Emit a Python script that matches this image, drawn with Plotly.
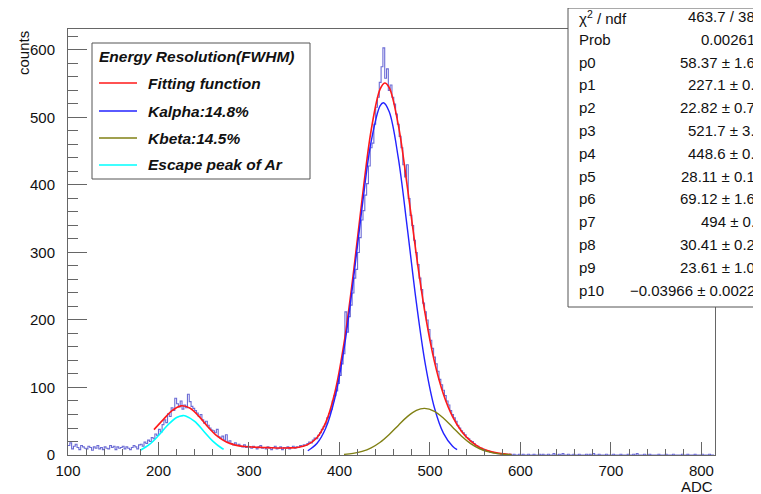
import numpy as np
import plotly.graph_objects as go

# ---------------- data ----------------
bin_start = 100
bin_width = 2
counts = [
    14, 18, 9, 13, 16, 11, 8, 14, 12, 10,
    9, 13, 11, 7, 12, 10, 14, 9, 11, 8,
    12, 10, 9, 14, 11, 13, 8, 12, 10, 11,
    13, 9, 12, 10, 8, 11, 14, 12, 9, 15,
    16, 13, 19, 17, 22, 20, 26, 24, 31, 29,
    38, 34, 45, 52, 48, 61, 57, 70, 66, 84,
    76, 71, 80, 68, 74, 70, 90, 79, 72, 69,
    66, 62, 57, 60, 52, 47, 50, 44, 40, 37,
    36, 33, 38, 27, 25, 28, 22, 30, 19, 21,
    17, 15, 18, 14, 16, 13, 12, 15, 11, 13,
    12, 10, 13, 11, 9, 12, 14, 10, 11, 9,
    12, 10, 8, 11, 13, 9, 10, 12, 8, 11,
    10, 12, 9, 11, 13, 10, 12, 11, 14, 13,
    15, 14, 17, 19, 18, 22, 25, 24, 29, 33,
    38, 42, 46, 55, 61, 68, 80, 88, 95, 106,
    118, 135, 150, 212, 182, 205, 222, 240, 262, 275,
    300, 322, 348, 362, 385, 402, 428, 455, 462, 490,
    515, 530, 552, 575, 603, 558, 572, 540, 548, 530,
    520, 505, 490, 472, 455, 430, 412, 430, 380, 355,
    340, 318, 300, 282, 262, 245, 225, 212, 200, 186,
    170, 158, 145, 135, 124, 112, 104, 96, 88, 80,
    74, 66, 60, 55, 50, 44, 40, 36, 33, 30,
    26, 24, 21, 20, 17, 14, 13, 11, 10, 8,
    7, 6, 6, 4, 4, 3, 3, 2, 2, 1,
    2, 1, 1, 0, 1, 0, 1, 0, 0, 1,
    0, 1, 0, 0, 1, 0, 0, 1, 0, 0,
    1, 0, 1, 0, 0, 1, 0, 0, 2, 0,
    0, 1, 0, 2, 0, 0, 1, 0, 0, 1,
    0, 0, 1, 0, 0, 0, 1, 0, 1, 0,
    2, 0, 0, 1, 0, 0, 0, 1, 0, 0,
    0, 1, 0, 0, 0, 1, 0, 0, 0, 1,
    0, 0, 1, 0, 2, 0, 0, 0, 1, 0,
    0, 1, 0, 0, 0, 0, 1, 0, 0, 0,
    1, 0, 0, 0, 1, 0, 0, 0, 0, 1,
    0, 0, 1, 0, 0, 0, 1, 0, 0, 0,
    1, 0, 0, 0, 1, 0, 0,
]

total_x = [195, 205, 215, 225, 235, 245, 255, 265, 275, 285, 295, 305, 315, 325,
           335, 345, 355, 365, 375, 385, 395, 405, 415, 425, 435, 445, 450, 455,
           465, 475, 485, 495, 505, 515, 525, 535, 545, 555, 565, 575, 585, 590]
total_y = [37.58, 52.0, 65.79, 72.81, 69.26, 56.80, 41.14, 27.80, 19.15, 14.65,
           12.61, 11.68, 11.15, 10.75, 10.47, 10.52, 11.57, 15.40, 25.69, 48.78,
           92.99, 165.2, 264.9, 378.8, 481.0, 542.2, 551.1, 544.2, 489.0, 397.3,
           296.1, 206.7, 138.0, 89.7, 56.9, 34.9, 20.4, 11.24, 5.82, 2.80, 1.20, 0.68]

kalpha_x = [365, 375, 385, 395, 405, 415, 425, 435, 445, 448.6, 455, 465, 475,
            485, 495, 505, 515, 525, 530]
kalpha_y = [6.26, 16.92, 40.33, 84.7, 156.7, 255.4, 366.8, 464.1, 517.4, 521.7,
            508.3, 440.0, 335.7, 225.6, 133.6, 69.7, 32.04, 12.98, 7.88]

kbeta_x = [405, 415, 425, 435, 445, 455, 465, 475, 485, 494, 505, 515, 525, 535,
           545, 555, 565, 575, 585, 590]
kbeta_y = [0.95, 2.37, 5.27, 10.53, 18.87, 30.37, 43.86, 56.86, 66.16, 69.12,
           64.74, 54.46, 41.11, 27.86, 16.94, 9.24, 4.53, 1.99, 0.79, 0.47]

escape_x = [180, 190, 200, 210, 220, 227.1, 230, 240, 250, 260, 270, 272]
escape_y = [6.93, 15.57, 28.84, 44.08, 55.61, 58.37, 57.90, 49.75, 35.28, 20.65, 9.97, 8.42]

legend_title = "Energy Resolution(FWHM)"
legend_labels = ["Fitting function", "Kalpha:14.8%", "Kbeta:14.5%", "Escape peak of Ar"]

stat_names = ["χ<sup>2</sup> / ndf", "Prob", "p0", "p1", "p2", "p3", "p4", "p5",
              "p6", "p7", "p8", "p9", "p10"]
stat_values = ["463.7 / 38", "0.00261", "58.37 ± 1.6", "227.1 ± 0.", "22.82 ± 0.7",
               "521.7 ± 3.", "448.6 ± 0.", "28.11 ± 0.1", "69.12 ± 1.6", "494 ± 0.",
               "30.41 ± 0.2", "23.61 ± 1.0", "−0.03966 ± 0.0022"]

# ---------------- styling ----------------
OFF = 8                      # page body margin of the html file
W, H = 761 - OFF, 494 - OFF
ML, MT = 68 - OFF, 29 - OFF
MR = W - (715 - OFF)
MB = H - (455 - OFF)
PW, PH = W - ML - MR, H - MT - MB
FONT = "Liberation Sans, Arial, Helvetica, sans-serif"
FRAME = "#666666"

c_hist = "rgba(45,45,195,0.7)"
c_red = "rgb(255,25,25)"
c_blue = "rgb(35,35,255)"
c_olive = "rgb(128,128,20)"
c_cyan = "rgb(0,255,255)"


def px2x(px):
    return (px - OFF - ML) / PW


def px2y(py):
    return (H - MB - (py - OFF)) / PH


edges = bin_start + bin_width * np.arange(len(counts) + 1)
hist_y = counts + [counts[-1]]

fig = go.Figure()
fig.add_trace(go.Scatter(x=edges, y=hist_y, mode="lines", line_shape="hv",
                         line=dict(color=c_hist, width=1.1), showlegend=False,
                         hoverinfo="skip"))
fig.add_trace(go.Scatter(x=total_x, y=total_y, mode="lines", line_shape="spline",
                         line=dict(color=c_red, width=1.6), showlegend=False))
fig.add_trace(go.Scatter(x=kalpha_x, y=kalpha_y, mode="lines", line_shape="spline",
                         line=dict(color=c_blue, width=1.4), showlegend=False))
fig.add_trace(go.Scatter(x=kbeta_x, y=kbeta_y, mode="lines", line_shape="spline",
                         line=dict(color=c_olive, width=1.4), showlegend=False))
fig.add_trace(go.Scatter(x=escape_x, y=escape_y, mode="lines", line_shape="spline",
                         line=dict(color=c_cyan, width=1.6), showlegend=False))

axis_common = dict(showgrid=False, zeroline=False, showline=True, linecolor=FRAME,
                   linewidth=1, mirror=True, ticks="inside", tickcolor=FRAME,
                   tickwidth=1, tickfont=dict(family=FONT, size=15, color="#111"))

fig.update_xaxes(range=[100, 815], dtick=100, tick0=0, ticklen=13,
                 minor=dict(dtick=20, ticks="inside", ticklen=6, tickcolor=FRAME),
                 ticklabelstandoff=2, **axis_common)
fig.update_yaxes(range=[0, 631], dtick=100, tick0=0, ticklen=19,
                 minor=dict(dtick=20, ticks="inside", ticklen=10, tickcolor=FRAME),
                 ticklabelstandoff=9, **axis_common)

shapes = []
annotations = []

# axis titles
annotations.append(dict(text="counts", textangle=-90, xref="paper", yref="paper",
                        x=px2x(23), y=px2y(29), xanchor="center", yanchor="top",
                        showarrow=False, font=dict(family=FONT, size=15, color="#111")))
annotations.append(dict(text="ADC", xref="paper", yref="paper", x=px2x(715),
                        y=px2y(486), xanchor="right", yanchor="middle",
                        showarrow=False, font=dict(family=FONT, size=15, color="#111")))

# legend box
shapes.append(dict(type="rect", xref="paper", yref="paper", x0=px2x(92), x1=px2x(310),
                   y0=px2y(179), y1=px2y(43), line=dict(color="#555", width=1),
                   fillcolor="white", layer="above"))
annotations.append(dict(text="<b><i>" + legend_title + "</i></b>", xref="paper",
                        yref="paper", x=px2x(97), y=px2y(57), xanchor="left",
                        yanchor="middle", showarrow=False,
                        font=dict(family=FONT, size=15.5, color="#111")))
leg_colors = [c_red, c_blue, c_olive, c_cyan]
leg_rows = [83, 111, 138, 165]
for lab, col, ry in zip(legend_labels, leg_colors, leg_rows):
    shapes.append(dict(type="line", xref="paper", yref="paper", x0=px2x(99),
                       x1=px2x(137), y0=px2y(ry), y1=px2y(ry),
                       line=dict(color=col, width=1.6), layer="above"))
    annotations.append(dict(text="<b><i>" + lab + "</i></b>", xref="paper",
                            yref="paper", x=px2x(146), y=px2y(ry), xanchor="left",
                            yanchor="middle", showarrow=False,
                            font=dict(family=FONT, size=15.5, color="#111")))

# stats box
shapes.append(dict(type="rect", xref="paper", yref="paper", x0=px2x(568), x1=px2x(775),
                   y0=px2y(307), y1=px2y(8), line=dict(color="#555", width=1),
                   fillcolor="white", layer="above"))
for i, (nm, val) in enumerate(zip(stat_names, stat_values)):
    ry = 16.5 + 22.8 * i
    annotations.append(dict(text=nm, xref="paper", yref="paper", x=px2x(577),
                            y=px2y(ry + (1.5 if i == 0 else 0)), xanchor="left",
                            yanchor="middle", showarrow=False,
                            font=dict(family=FONT, size=15, color="#111")))
    annotations.append(dict(text=val, xref="paper", yref="paper", x=px2x(757),
                            y=px2y(ry), xanchor="right", yanchor="middle",
                            showarrow=False, font=dict(family=FONT, size=15, color="#111")))

fig.update_layout(width=W, height=H, margin=dict(l=ML, r=MR, t=MT, b=MB, pad=0),
                  paper_bgcolor="white", plot_bgcolor="white", shapes=shapes,
                  annotations=annotations, showlegend=False,
                  font=dict(family=FONT, size=15, color="#111"))

fig.write_html("out.html")
